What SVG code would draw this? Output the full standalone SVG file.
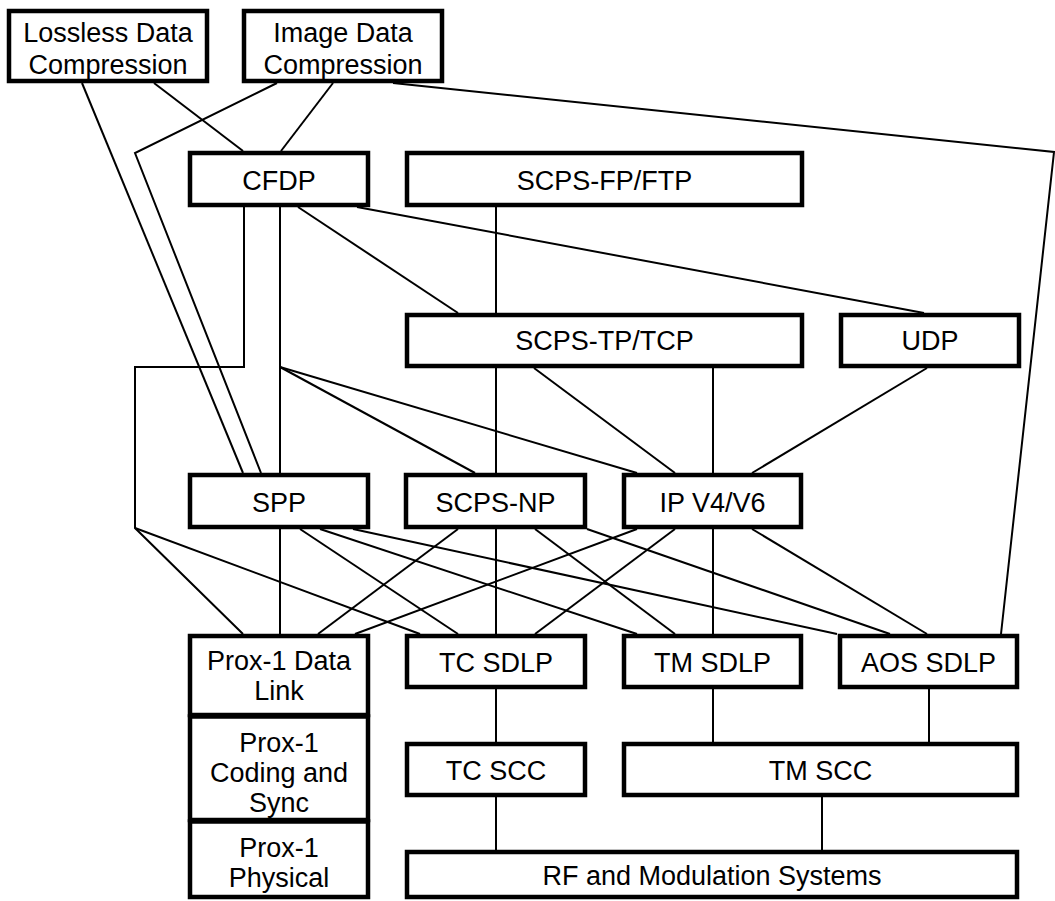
<svg xmlns="http://www.w3.org/2000/svg" width="1055" height="901" viewBox="0 0 1055 901">
<style>
.bg{fill:#fff}
.box{fill:#fff;stroke:#000;stroke-width:4.5}
.c{fill:none;stroke:#000;stroke-width:2;stroke-linejoin:miter}
text{font-family:"Liberation Sans",Arial,sans-serif;font-size:27px;fill:#000;text-anchor:middle}
</style>
<rect class="bg" x="0" y="0" width="1055" height="901"/>
<g id="connectors">
<polyline class="c" points="82,83 243,473"/>
<polyline class="c" points="154,83 243,151"/>
<polyline class="c" points="333,83 281,151"/>
<polyline class="c" points="277,83 135,153 261,473"/>
<polyline class="c" points="393,83 1054,152 1001,634"/>
<polyline class="c" points="244,207 244,367 135,367 135,528 243,634"/>
<polyline class="c" points="135,528 420,634"/>
<polyline class="c" points="280,207 280,473"/>
<polyline class="c" points="280,367 475,473"/>
<polyline class="c" points="280,367 637,473"/>
<polyline class="c" points="298,207 458,313"/>
<polyline class="c" points="357,207 924,313"/>
<polyline class="c" points="496,207 496,313"/>
<polyline class="c" points="496,368 496,473"/>
<polyline class="c" points="534,368 675,473"/>
<polyline class="c" points="713,368 713,473"/>
<polyline class="c" points="927,368 752,473"/>
<polyline class="c" points="280,529 280,634"/>
<polyline class="c" points="300,529 458,634"/>
<polyline class="c" points="320,529 637,634"/>
<polyline class="c" points="353,529 837,634"/>
<polyline class="c" points="458,529 318,634"/>
<polyline class="c" points="496,529 496,634"/>
<polyline class="c" points="535,529 675,634"/>
<polyline class="c" points="587,529 890,634"/>
<polyline class="c" points="637,529 355,634"/>
<polyline class="c" points="675,529 535,634"/>
<polyline class="c" points="713,529 713,634"/>
<polyline class="c" points="752,529 927,634"/>
<polyline class="c" points="496,689 496,742"/>
<polyline class="c" points="713,689 713,742"/>
<polyline class="c" points="929,689 929,742"/>
<polyline class="c" points="496,797 496,850"/>
<polyline class="c" points="822,797 822,850"/>
</g>
<g id="lossless"><rect class="box" x="9" y="11" width="198" height="70"/><text x="108" y="42">Lossless Data</text><text x="108" y="74">Compression</text></g>
<g id="image"><rect class="box" x="244" y="11" width="198" height="70"/><text x="343" y="42">Image Data</text><text x="343" y="74">Compression</text></g>
<g id="cfdp"><rect class="box" x="190" y="153" width="178" height="52"/><text x="279" y="190">CFDP</text></g>
<g id="scps-fp"><rect class="box" x="407" y="153" width="395" height="52"/><text x="604.5" y="190">SCPS-FP/FTP</text></g>
<g id="scps-tp"><rect class="box" x="407" y="315" width="395" height="51"/><text x="604.5" y="350">SCPS-TP/TCP</text></g>
<g id="udp"><rect class="box" x="841" y="315" width="178" height="51"/><text x="930" y="350">UDP</text></g>
<g id="spp"><rect class="box" x="190" y="475" width="178" height="52"/><text x="279" y="512">SPP</text></g>
<g id="scps-np"><rect class="box" x="406" y="475" width="179" height="52"/><text x="495.5" y="512">SCPS-NP</text></g>
<g id="ip"><rect class="box" x="624" y="475" width="177" height="52"/><text x="712.5" y="512">IP V4/V6</text></g>
<g id="prox-dl"><rect class="box" x="190" y="636" width="178" height="79"/><text x="279" y="670">Prox-1 Data</text><text x="279" y="700">Link</text></g>
<g id="prox-cs"><rect class="box" x="190" y="716.5" width="178" height="103.5"/><text x="279" y="752">Prox-1</text><text x="279" y="782">Coding and</text><text x="279" y="812">Sync</text></g>
<g id="prox-phy"><rect class="box" x="190" y="821.5" width="178" height="75.5"/><text x="279" y="857">Prox-1</text><text x="279" y="887">Physical</text></g>
<g id="tc-sdlp"><rect class="box" x="407" y="636" width="178" height="51"/><text x="496" y="672">TC SDLP</text></g>
<g id="tm-sdlp"><rect class="box" x="624" y="636" width="177" height="51"/><text x="712.5" y="672">TM SDLP</text></g>
<g id="aos-sdlp"><rect class="box" x="840" y="636" width="177" height="51"/><text x="928.5" y="672">AOS SDLP</text></g>
<g id="tc-scc"><rect class="box" x="407" y="744" width="178" height="51"/><text x="496" y="780">TC SCC</text></g>
<g id="tm-scc"><rect class="box" x="624" y="744" width="393" height="51"/><text x="820.5" y="780">TM SCC</text></g>
<g id="rf"><rect class="box" x="407" y="852" width="610" height="45"/><text x="712" y="885">RF and Modulation Systems</text></g>
</svg>
